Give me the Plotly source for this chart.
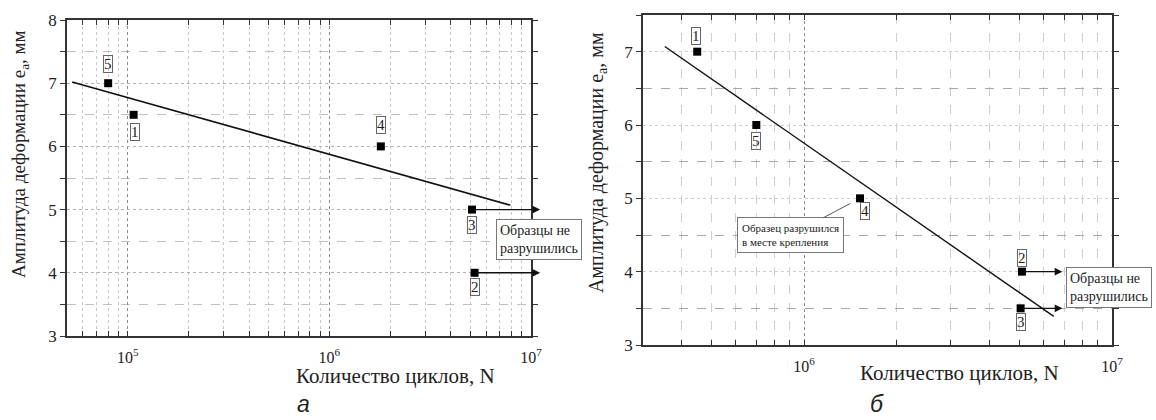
import math
import plotly.graph_objects as go

W, H = 1156, 420

# ---------------- data: panel "а" ----------------
a_cycles = [8.0e4, 1.07e5, 1.8e6, 5.1e6, 5.25e6]
a_amp = [7.0, 6.5, 6.0, 5.0, 4.0]
a_labels = ["5", "1", "4", "3", "2"]
a_fit_cycles = [5.3e4, 7.9e6]
a_fit_amp = [7.02, 5.07]
a_runout_idx = [3, 4]
a_arrow_end = 1.11e7

# ---------------- data: panel "б" ----------------
b_cycles = [4.5e5, 7.0e5, 1.52e6, 5.1e6, 5.05e6]
b_amp = [7.0, 6.0, 5.0, 4.0, 3.5]
b_labels = ["1", "5", "4", "2", "3"]
b_fit_cycles = [3.53e5, 6.47e6]
b_fit_amp = [7.07, 3.39]
b_runout_idx = [3, 4]
b_arrow_end = 6.9e6

# tick values
a_x_major = [1e5, 1e6, 1e7]
b_x_major = [1e6, 1e7]
a_y_major = [3, 4, 5, 6, 7, 8]
b_y_major = [3, 4, 5, 6, 7]

# label offsets (px): (xshift, yshift)
a_lab_off = [(0, 19), (1, -17), (0, 21), (0, -15), (0, -14)]
b_lab_off = [(-1, 16), (0, -16), (5, -13), (0, 14), (0, -14)]

SERIF = "Liberation Serif"
SANS = "Liberation Sans"
AX = "#333333"

def px(x):
    return x / W

def py(y):
    return 1 - y / H

fig = go.Figure()

# fit lines
fig.add_trace(go.Scatter(x=a_fit_cycles, y=a_fit_amp, mode="lines",
                         line=dict(color="#111", width=1.6), xaxis="x", yaxis="y",
                         showlegend=False, hoverinfo="skip"))
fig.add_trace(go.Scatter(x=b_fit_cycles, y=b_fit_amp, mode="lines",
                         line=dict(color="#111", width=1.4), xaxis="x2", yaxis="y2",
                         showlegend=False, hoverinfo="skip"))
# points
fig.add_trace(go.Scatter(x=a_cycles, y=a_amp, mode="markers",
                         marker=dict(symbol="square", size=8, color="#000"),
                         xaxis="x", yaxis="y", showlegend=False))
fig.add_trace(go.Scatter(x=b_cycles, y=b_amp, mode="markers",
                         marker=dict(symbol="square", size=8, color="#000"),
                         xaxis="x2", yaxis="y2", showlegend=False))

annotations = []

def add_labels(cyc, amp, labs, offs, xr, yr):
    for c, a, t, (dx, dy) in zip(cyc, amp, labs, offs):
        annotations.append(dict(x=math.log10(c), y=a, xref=xr, yref=yr, text=t,
                                showarrow=False, xshift=dx, yshift=dy,
                                xanchor="center", yanchor="middle",
                                font=dict(family=SERIF, size=15, color="#222"),
                                bordercolor="#666", borderwidth=1, borderpad=0))

def add_arrows(cyc, amp, idx, end, xr, yr):
    for i in idx:
        annotations.append(dict(x=math.log10(end), y=amp[i], xref=xr, yref=yr,
                                ax=math.log10(cyc[i]), ay=amp[i], axref=xr, ayref=yr,
                                text="", showarrow=True, arrowhead=2, arrowsize=1.1,
                                arrowwidth=1.4, arrowcolor="#111", standoff=0,
                                startstandoff=0))

add_labels(a_cycles, a_amp, a_labels, a_lab_off, "x", "y")
add_labels(b_cycles, b_amp, b_labels, b_lab_off, "x2", "y2")
add_arrows(a_cycles, a_amp, a_runout_idx, a_arrow_end, "x", "y")
add_arrows(b_cycles, b_amp, b_runout_idx, b_arrow_end, "x2", "y2")

def ptext(x, y, text, size, family=SERIF, angle=0, xanchor="center", yanchor="middle", **kw):
    d = dict(x=px(x), y=py(y), xref="paper", yref="paper", text=text, showarrow=False,
             xanchor=xanchor, yanchor=yanchor, textangle=angle,
             font=dict(family=family, size=size, color="#222"))
    d.update(kw)
    annotations.append(d)

# text boxes
ptext(496, 239, "Образцы не<br>разрушились", 14, xanchor="left", align="left",
      bordercolor="#777", borderwidth=1, borderpad=3, bgcolor="white")
ptext(1066, 287, "Образцы не<br>разрушились", 14, xanchor="left", align="left",
      bordercolor="#777", borderwidth=1, borderpad=3, bgcolor="white")
annotations.append(dict(x=math.log10(b_cycles[2]), y=b_amp[2], xref="x2", yref="y2",
                        ax=-70, ay=37, text="Образец разрушился<br>в месте крепления",
                        align="left", showarrow=True, arrowhead=0, arrowwidth=1,
                        arrowcolor="#555", standoff=11,
                        font=dict(family=SERIF, size=11, color="#222"),
                        bordercolor="#777", borderwidth=1, borderpad=4, bgcolor="white"))

# axis titles
ptext(20, 154, "Амплитуда деформации e<sub>a</sub>, мм", 19, angle=-90)
ptext(598, 163, "Амплитуда деформации e<sub>a</sub>, мм", 20, angle=-90)
ptext(395, 376, "Количество циклов, N", 21)
ptext(959, 373, "Количество циклов, N", 21)
# captions
ptext(303, 419, "<i>а</i>", 23, family=SANS, yanchor="bottom")
ptext(877, 419, "<i>б</i>", 23, family=SANS, yanchor="bottom")

def log_minor(lo, hi, vmin, vmax):
    return [m * 10 ** d for d in range(lo, hi + 1) for m in range(2, 10)
            if vmin <= m * 10 ** d <= vmax]

def half_minor(lo, hi):
    return [v + 0.5 for v in range(int(lo), int(math.ceil(hi))) if v + 0.5 <= hi]

def xaxis_cfg(major, vmin, vmax, dom, grid_major, grid_minor, dash_minor, lo, hi):
    return dict(type="log", domain=dom, range=[math.log10(vmin), math.log10(vmax)],
                tickmode="array", tickvals=major,
                ticktext=[f"10<sup>{round(math.log10(v))}</sup>" for v in major],
                showline=True, linecolor=AX, linewidth=1.5, mirror="ticks",
                ticks="inside", ticklen=5, tickcolor=AX, tickwidth=1.2,
                showgrid=True, gridcolor=grid_major, griddash="dot", gridwidth=1.2,
                minor=dict(tickmode="array", tickvals=log_minor(lo, hi, vmin, vmax),
                           ticks="inside", ticklen=5, tickcolor=AX, tickwidth=1.2,
                           showgrid=True, gridcolor=grid_minor, griddash=dash_minor,
                           gridwidth=1),
                tickfont=dict(family=SERIF, size=16, color="#222"),
                ticklabelstandoff=6, zeroline=False, automargin=False)

def yaxis_cfg(major, lo, hi, dom, grid_major, dash_major, grid_minor, dash_minor):
    return dict(domain=dom, range=[lo, hi], tickmode="array", tickvals=major,
                ticktext=[str(v) for v in major],
                showline=True, linecolor=AX, linewidth=1.5, mirror="ticks",
                ticks="outside", ticklen=5, tickcolor=AX, tickwidth=1.2,
                showgrid=True, gridcolor=grid_major, griddash=dash_major, gridwidth=1,
                minor=dict(tickmode="array", tickvals=half_minor(lo, hi),
                           ticks="outside", ticklen=5, tickcolor=AX, tickwidth=1.2,
                           showgrid=True, gridcolor=grid_minor, griddash=dash_minor,
                           gridwidth=1),
                tickfont=dict(family=SERIF, size=17, color="#222"),
                zeroline=False, automargin=False)

fig.update_layout(
    width=W, height=H, margin=dict(l=0, r=0, t=0, b=0, autoexpand=False),
    paper_bgcolor="white", plot_bgcolor="white", showlegend=False,
    font=dict(family=SERIF),
    xaxis=dict(xaxis_cfg(a_x_major, 5e4, 1e7, [px(67), px(531)], "#8a8a8a", "#c8c8c8",
                         "dot", 4, 7), anchor="y"),
    yaxis=dict(yaxis_cfg(a_y_major, 3, 8, [py(336), py(20)], "#b0b0b0", "dot",
                         "#c0c0c0", "dash"), anchor="x"),
    xaxis2=dict(xaxis_cfg(b_x_major, 3e5, 1e7, [px(643), px(1112)], "#8a8a8a", "#cfcfcf",
                          "dash", 5, 7), anchor="y2"),
    yaxis2=dict(yaxis_cfg(b_y_major, 3, 7.5, [py(345), py(15)], "#cfcfcf", "dot",
                          "#a8a8a8", "dash"), anchor="x2"),
    annotations=annotations,
)

fig.write_html("out.html", config={"displayModeBar": False},
               post_script="document.body.style.margin='0';"
                           "document.documentElement.style.overflow='hidden';")
